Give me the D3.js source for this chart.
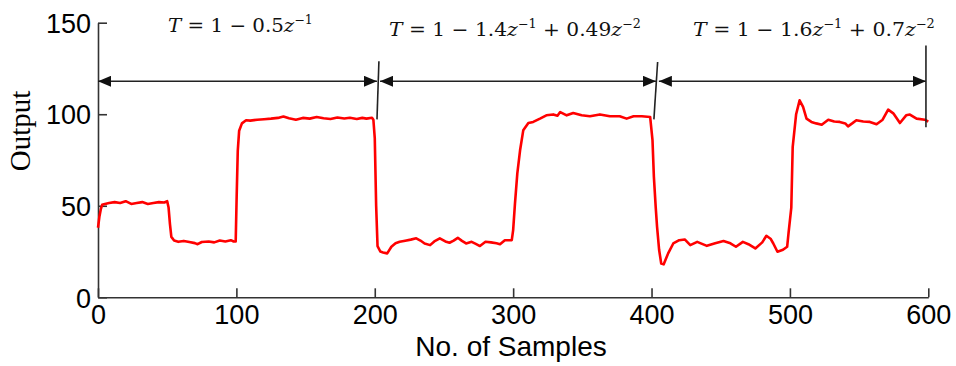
<!DOCTYPE html>
<html>
<head>
<meta charset="utf-8">
<script src="https://cdn.jsdelivr.net/npm/d3@7"></script>
<style>
body { margin: 0; background: #fff; }
svg { display: block; }
</style>
</head>
<body>
<script>
let x = 956;
let y = 366;

let pad = { top: 22.7, rig: 27.7, bot: 68.7, lef: 98 };

// values
let sampleNo = [0, 1, 2, 3, 5, 8, 12, 16, 20, 24, 28, 32, 36, 40, 44, 48, 50, 51, 52, 53, 55, 58, 62, 66, 70, 72, 75, 80, 84, 88, 92, 96, 98, 99.5,
  100.2, 101, 102, 104, 107, 110, 115, 120, 125, 130, 134, 138, 143, 148, 153, 158, 163, 168, 173, 178, 182, 187, 191, 194, 198, 199,
  200, 201, 202, 204, 206, 209, 212, 215, 218, 222, 226, 230, 233, 236, 240, 243, 247, 251, 254, 257, 260, 263, 266, 270, 273, 276, 280, 284, 288, 290.5, 294, 299,
  300, 301.3, 303, 305, 307.3, 311, 314.5, 319.4, 324, 329, 332, 334, 338.7, 343.4, 349.5, 355.5, 362.7, 369.9, 377, 382, 387, 393, 399,
  400.7, 401.7, 403, 404, 405.5, 407, 408.8, 412, 415.7, 420, 424, 428, 433, 440, 446, 452, 457, 461, 466, 470, 475, 480, 483, 486, 488, 491, 495, 498,
  499, 501, 502, 504.5, 507, 509.5, 512, 515.5, 519, 523, 527.7, 532, 536, 540, 542, 545, 548, 553, 557.8, 562.6, 567, 571, 574.7, 579.5, 584, 586.7, 591.5, 597.5, 600];
let outputVal = [38, 44, 48, 50.5, 51, 51.5, 52, 51.5, 52.5, 51, 51.5, 52, 51, 51.5, 52, 51.8, 52.5, 49, 40, 33, 31, 30.3, 30.8, 30.2, 29.6, 29, 30.2, 30.5, 30, 31, 30.5, 31.2, 30.5, 30.5,
  55, 80, 91, 95, 96.7, 96.5, 97, 97.3, 97.6, 98, 98.8, 97.8, 97, 98, 97.6, 98.5, 97.8, 97.4, 98.2, 97.7, 98.1, 97.4, 98, 97.6, 98.1, 97,
  87, 50, 28, 25, 24.5, 24, 27.6, 29.5, 30.3, 30.9, 31.5, 32.2, 31, 29.4, 28.5, 30.5, 32.2, 30.5, 29.8, 31, 32.5, 30.8, 29.4, 30.3, 29.2, 28, 30.3, 30, 29.5, 29, 31.2, 31.2,
  36.7, 51, 67.6, 80.3, 91.2, 95.2, 95.8, 97.6, 99.4, 99.9, 99.2, 101.2, 99.4, 100.7, 99.4, 98.9, 99.9, 98.9, 98.9, 97.6, 98.9, 98.9, 98.5,
  85.8, 65.8, 49.4, 38.5, 25.8, 18.5, 18, 24, 29.4, 31.2, 31.6, 28.5, 30.3, 28.1, 29.5, 30.7, 29.5, 27.6, 30.3, 29, 26.7, 30, 33.6, 32, 29.4, 24.9, 26, 27.6,
  35, 49, 82, 100, 107.6, 104, 97.6, 95.8, 95, 94.3, 97, 96, 95.8, 95, 93.4, 95, 96.7, 96, 95.8, 94.5, 97, 102.5, 100.5, 95.2, 99.4, 99.8, 97.6, 97, 96];

let xTicks = [0, 100, 200, 300, 400, 500, 600];
let yTicks = [0, 50, 100, 150];

// annotation: arrows spanning each controller period
let arrowFrom = [0, 203.8, 405.3];
let arrowTo = [201.6, 403.2, 598.3];
let arrowLevel = 118;
// separator lines, top and bottom ends
let sepTopX = [203, 404.4, 598.3];
let sepTopY = [128.9, 128.5, 137.6];
let sepBotX = [201.6, 401.7, 598.3];
let sepBotY = [97.2, 97.2, 92.9];
// equations: pieces (i = italic, s = superscript), left / right extent in samples, baseline in output units
let eqParts = [
  [["T", "i"], [" = 1 \u2212 0.5", ""], ["z", "i"], ["\u22121", "s"]],
  [["T", "i"], [" = 1 \u2212 1.4", ""], ["z", "i"], ["\u22121", "s"], [" + 0.49", ""], ["z", "i"], ["\u22122", "s"]],
  [["T", "i"], [" = 1 \u2212 1.6", ""], ["z", "i"], ["\u22121", "s"], [" + 0.7", ""], ["z", "i"], ["\u22122", "s"]]
];
let eqLeft = [50.6, 210.3, 430];
let eqRight = [155.3, 392.3, 604.8];
let eqBase = [144.7, 143, 143];

let svg = d3.select("body")
  .append("svg")
  .attr("width", x)
  .attr("height", y)
  .attr("viewBox", "0 0 " + x + " " + y);

let xScale = d3.scaleLinear().domain([0, 600]).range([pad.lef, x - pad.rig]);
let yScale = d3.scaleLinear().domain([0, 150]).range([y - pad.bot, pad.top]);

// axes: only left and bottom, ticks pointing inward
let xAxis = svg.append("g")
  .attr("transform", "translate(0," + (y - pad.bot) + ")")
  .call(d3.axisBottom(xScale).tickValues(xTicks).tickSize(-9).tickSizeOuter(0));
let yAxis = svg.append("g")
  .attr("transform", "translate(" + pad.lef + ",0)")
  .call(d3.axisLeft(yScale).tickValues(yTicks).tickSize(-9).tickSizeOuter(0));

[xAxis, yAxis].forEach(g => {
  g.select(".domain").attr("stroke", "#333").attr("stroke-width", 1.6);
  g.selectAll(".tick line").attr("stroke", "#333").attr("stroke-width", 1.6);
  g.selectAll(".tick text")
    .attr("fill", "#000")
    .attr("font-family", "'Liberation Sans', Arial, sans-serif")
    .attr("font-size", 27);
});
xAxis.selectAll(".tick text").attr("dy", "0.71em").attr("y", 8);
yAxis.selectAll(".tick text").attr("x", -7).attr("dy", "0.36em");

// data line
let line = d3.line()
  .x((d, i) => xScale(sampleNo[i]))
  .y(d => yScale(d));

svg.append("path")
  .datum(outputVal)
  .attr("d", line)
  .attr("fill", "none")
  .attr("stroke", "#ff0000")
  .attr("stroke-width", 2.6)
  .attr("stroke-linejoin", "round");

// axis titles
svg.append("text")
  .text("No. of Samples")
  .attr("x", 511)
  .attr("y", 356)
  .attr("text-anchor", "middle")
  .attr("font-family", "'Liberation Sans', Arial, sans-serif")
  .attr("font-size", 28)
  .attr("fill", "#000");

svg.append("text")
  .text("Output")
  .attr("transform", "translate(30,131) rotate(-90)")
  .attr("text-anchor", "middle")
  .attr("font-family", "'Liberation Serif', 'Times New Roman', serif")
  .attr("font-size", 29)
  .attr("fill", "#000");

// arrow marker
let defs = svg.append("defs");
defs.append("marker")
  .attr("id", "head")
  .attr("markerUnits", "userSpaceOnUse")
  .attr("viewBox", "0 0 13 11")
  .attr("refX", 13)
  .attr("refY", 5.5)
  .attr("markerWidth", 13)
  .attr("markerHeight", 11)
  .attr("orient", "auto-start-reverse")
  .append("path")
  .attr("d", "M0,0 L13,5.5 L0,11 Z")
  .attr("fill", "#111");

svg.selectAll(".span-arrow")
  .data(arrowFrom)
  .enter()
  .append("line")
  .attr("class", "span-arrow")
  .attr("x1", d => xScale(d))
  .attr("x2", (d, i) => xScale(arrowTo[i]))
  .attr("y1", yScale(arrowLevel))
  .attr("y2", yScale(arrowLevel))
  .attr("stroke", "#222")
  .attr("stroke-width", 1.6)
  .attr("marker-start", "url(#head)")
  .attr("marker-end", "url(#head)");

svg.selectAll(".sep")
  .data(sepTopX)
  .enter()
  .append("line")
  .attr("class", "sep")
  .attr("x1", d => xScale(d))
  .attr("y1", (d, i) => yScale(sepTopY[i]))
  .attr("x2", (d, i) => xScale(sepBotX[i]))
  .attr("y2", (d, i) => yScale(sepBotY[i]))
  .attr("stroke", "#222")
  .attr("stroke-width", 1.6);

// equations, stretched to the width they take in the picture
eqParts.forEach((parts, k) => {
  let t = svg.append("text")
    .attr("font-family", "'DejaVu Serif', 'Liberation Serif', serif")
    .attr("font-size", 19)
    .attr("fill", "#111");
  let raised = false;
  parts.forEach(p => {
    let s = t.append("tspan").text(p[0]);
    if (p[1] == "i") s.attr("font-style", "italic");
    if (p[1] == "s") {
      s.attr("font-size", 12).attr("dy", -8);
      raised = true;
    } else if (raised) {
      s.attr("dy", 8);
      raised = false;
    }
  });
  let w = t.node().getComputedTextLength();
  let target = xScale(eqRight[k]) - xScale(eqLeft[k]);
  t.attr("transform", "translate(" + xScale(eqLeft[k]) + "," + yScale(eqBase[k]) + ") scale(" + (target / w) + ",1)");
});
</script>
</body>
</html>
